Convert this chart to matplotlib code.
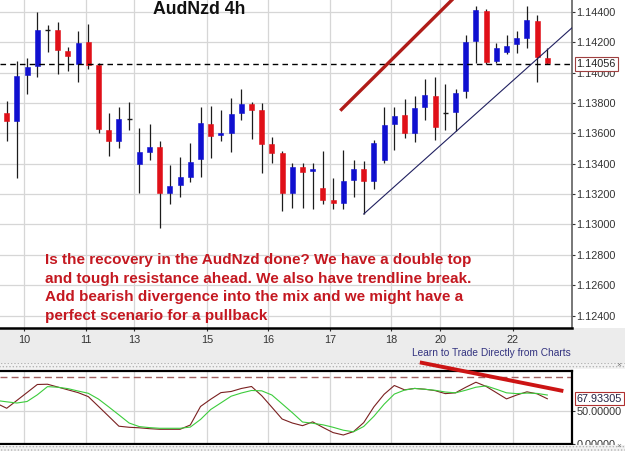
import matplotlib
matplotlib.use("Agg")
import matplotlib.pyplot as plt
import matplotlib.patches as mpatches
import numpy as np

plt.rcParams['font.family'] = ['Liberation Sans', 'DejaVu Sans']
plt.rcParams['hatch.linewidth'] = 0.6

# 4h candles, one row per bar
opens = [1.13734, 1.13681, 1.13984, 1.14043, 1.14280, 1.14280, 1.14141, 1.14056, 1.14201, 1.14049,
         1.13622, 1.13549, 1.13694, 1.13398, 1.13477, 1.13510, 1.13207, 1.13260, 1.13312, 1.13431,
         1.13661, 1.13589, 1.13602, 1.13734, 1.13793, 1.13753, 1.13530, 1.13470, 1.13207, 1.13378,
         1.13352, 1.13240, 1.13161, 1.13141, 1.13293, 1.13365, 1.13286, 1.13424, 1.13661, 1.13720,
         1.13602, 1.13773, 1.13845, 1.13734, 1.13740, 1.13878, 1.14207, 1.14405, 1.14076, 1.14135,
         1.14188, 1.14227, 1.14339, 1.14095]
highs = [1.13813, 1.14076, 1.14095, 1.14398, 1.14312, 1.14332, 1.14168, 1.14273, 1.14319, 1.14063,
         1.13734, 1.13773, 1.13806, 1.13635, 1.13661, 1.13549, 1.13391, 1.13444, 1.13536, 1.13773,
         1.13780, 1.13753, 1.13832, 1.13891, 1.13806, 1.13799, 1.13576, 1.13484, 1.13405, 1.13405,
         1.13405, 1.13484, 1.13306, 1.13490, 1.13424, 1.13418, 1.13556, 1.13773, 1.13773, 1.13826,
         1.13845, 1.13957, 1.13970, 1.13924, 1.13891, 1.14247, 1.14438, 1.14418, 1.14194, 1.14247,
         1.14273, 1.14438, 1.14378, 1.14161]
lows = [1.13549, 1.13306, 1.13859, 1.13970, 1.14135, 1.13990, 1.14010, 1.13938, 1.14023, 1.13602,
        1.13451, 1.13503, 1.13622, 1.13207, 1.13424, 1.12977, 1.13135, 1.13181, 1.13280, 1.13312,
        1.13438, 1.13549, 1.13477, 1.13688, 1.13563, 1.13339, 1.13405, 1.13089, 1.13109, 1.13109,
        1.13102, 1.13135, 1.13102, 1.13102, 1.13181, 1.13069, 1.13234, 1.13405, 1.13490, 1.13569,
        1.13543, 1.13688, 1.13556, 1.13622, 1.13615, 1.13832, 1.14063, 1.14056, 1.14063, 1.14122,
        1.14128, 1.14161, 1.13938, 1.14056]
closes = [1.13681, 1.13977, 1.14036, 1.14280, 1.14280, 1.14148, 1.14109, 1.14194, 1.14049, 1.13628,
          1.13549, 1.13694, 1.13694, 1.13477, 1.13510, 1.13207, 1.13253, 1.13312, 1.13411, 1.13668,
          1.13582, 1.13602, 1.13727, 1.13793, 1.13753, 1.13530, 1.13470, 1.13207, 1.13378, 1.13345,
          1.13365, 1.13161, 1.13141, 1.13286, 1.13365, 1.13286, 1.13536, 1.13655, 1.13714, 1.13602,
          1.13766, 1.13852, 1.13641, 1.13734, 1.13865, 1.14201, 1.14411, 1.14069, 1.14161, 1.14174,
          1.14227, 1.14345, 1.14102, 1.14063]

last_price = 1.14056
price_ticks = [1.124, 1.126, 1.128, 1.130, 1.132, 1.134, 1.136, 1.138, 1.140, 1.142, 1.144]

# day labels sit on bar boundaries
day_pos = [1.7, 7.75, 12.5, 19.65, 25.6, 31.7, 37.7, 42.5, 49.6]
day_labels = ['10', '11', '13', '15', '16', '17', '18', '20', '22']

# stochastic, first value belongs to the bar before the first visible candle
stoch_k = [61.1, 53.6, 65.4, 77.3, 89.3, 89.7, 85.5, 81.3, 77.1, 71.1, 56.4, 41.6, 26.7, 25.1, 24.3,
           23.0, 22.1, 22.1, 22.1, 28.5, 56.3, 67.2, 77.1, 78.8, 83.3, 86.3, 72.5, 55.1, 37.5, 31.5,
           27.5, 33.2, 24.9, 17.1, 13.5, 18.6, 32.1, 55.8, 74.6, 87.8, 81.3, 83.4, 82.2, 80.1, 75.6,
           76.8, 85.1, 92.7, 86.4, 77.1, 67.7, 73.5, 78.3, 75.3, 67.9]
stoch_d = [65.3, 63.3, 61.5, 63.8, 73.8, 86.1, 85.2, 83.1, 79.5, 76.1, 67.4, 55.7, 43.7, 31.5, 26.1,
           24.6, 23.6, 23.6, 23.6, 25.4, 36.8, 51.8, 61.7, 71.7, 76.5, 80.3, 79.8, 73.5, 60.3, 47.0,
           33.0, 31.1, 28.8, 25.1, 20.7, 18.3, 26.3, 41.6, 59.7, 74.9, 80.9, 83.4, 82.1, 80.6, 78.0,
           76.8, 80.7, 85.2, 87.2, 82.2, 76.8, 75.6, 76.4, 75.9, 73.5]
last_stoch = 67.93305

# hand drawn lines (bar index, value)
trend_x, trend_y = [35, 55.4], [1.13069, 1.14293]
top_x, top_y = [32.7, 44.5], [1.13749, 1.14534]
div_x, div_y = [40.5, 54.57], [122.5, 79.5]

W, H = 625, 451
fig = plt.figure(figsize=(6.25, 4.51), dpi=100)
fig.patch.set_facecolor('white')

# grey strip with dates and dotted separators
fig.patches.append(mpatches.Rectangle((0, 1 - 363 / H), 1, 35 / H, transform=fig.transFigure,
                                      facecolor='#ececec', edgecolor='none', zorder=-2))
for y0, h, z in [(363, 6, -1), (445, 6, 1)]:
    fig.patches.append(mpatches.Rectangle((0, 1 - (y0 + h) / H), 1, h / H, transform=fig.transFigure,
                                          facecolor='#f2f2f2', edgecolor='#b4b4b4', hatch='.....',
                                          lw=0, zorder=z))

xmin, xmax = -0.657, 55.39
ax = fig.add_axes([0, 1 - 328 / H, 571.7 / W, 328 / H])
ax.set_xlim(xmin, xmax)
ax.set_ylim(1.12319, 1.14477)
ax.set_axisbelow(True)

idx = np.arange(len(opens))
for i, o, h, l, c in zip(idx, opens, highs, lows, closes):
    ax.vlines(i, l, h, color='#1c1c1c', lw=0.9, zorder=2)
    if c == o:
        ax.hlines(o, i - 0.25, i + 0.25, color='#1c1c1c', lw=1.0, zorder=3)
    else:
        col = '#1010d0' if c > o else '#e01018'
        ax.bar(i, abs(c - o), bottom=min(o, c), width=0.48, color=col,
               edgecolor=col, lw=0.4, zorder=3)

ax.axhline(last_price, color='black', lw=1.0, ls=(0, (4, 3)), zorder=4)
ax.plot(trend_x, trend_y, color='#202060', lw=0.8, zorder=4)
ax.plot(top_x, top_y, color='#b01c18', lw=2.4, solid_capstyle='butt', zorder=4)

ax.set_yticks(price_ticks)
ax.set_yticklabels(['%.5f' % p for p in price_ticks])
ax.yaxis.tick_right()
ax.set_xticks(day_pos)
ax.set_xticklabels(day_labels)
ax.tick_params(axis='y', direction='out', length=2.5, pad=1, labelsize=7.8,
               colors='#333333', width=0.8)
ax.tick_params(axis='x', direction='out', length=2.5, pad=2.5, labelsize=7.8,
               colors='#333333', width=0.8)
ax.grid(True, color='#d6d6d6', lw=0.9)
for s in ['left', 'top']:
    ax.spines[s].set_visible(False)
ax.spines['bottom'].set_linewidth(1.8)
ax.spines['right'].set_color('#606060')
ax.spines['right'].set_linewidth(1.2)

ax.annotate('%.5f' % last_price, xy=(1.0, last_price), xycoords=('axes fraction', 'data'),
            xytext=(3.5, 0), textcoords='offset points', ha='left', va='center',
            fontsize=7.8, color='#222222', annotation_clip=False, zorder=6,
            bbox=dict(boxstyle='square,pad=0.15', fc='white', ec='#a04040', lw=0.8))

# oscillator panel
ox = fig.add_axes([0, 1 - 444 / H, 571.7 / W, (444 - 370.7) / H])
ox.set_xlim(xmin, xmax)
ox.set_ylim(0, 110)
ox.set_axisbelow(True)
sx = np.arange(len(stoch_k)) - 1
ox.plot(sx, stoch_k, color='#7a2020', lw=0.8, zorder=3)
ox.plot(sx, stoch_d, color='#3ccc3c', lw=0.8, zorder=3)
ox.axhline(100, color='#a06060', lw=1.0, ls=(0, (5, 3)), zorder=2)
ox.plot(div_x, div_y, color='#cc1414', lw=2.8, solid_capstyle='butt', clip_on=False, zorder=5)

ox.set_yticks([0, 50])
ox.set_yticklabels(['0.00000', '50.00000'])
ox.yaxis.tick_right()
ox.set_xticks(day_pos)
ox.tick_params(axis='x', length=0, labelbottom=False)
ox.tick_params(axis='y', direction='out', length=2.5, pad=1, labelsize=7.8,
               colors='#333333', width=0.8)
ox.grid(True, color='#d6d6d6', lw=0.9)
ox.spines['left'].set_visible(False)
for s in ['top', 'bottom', 'right']:
    ox.spines[s].set_linewidth(1.6)
    ox.spines[s].set_color('black')

ox.annotate('%.5f' % last_stoch, xy=(1.0, last_stoch), xycoords=('axes fraction', 'data'),
            xytext=(3.5, 0), textcoords='offset points', ha='left', va='center',
            fontsize=7.8, color='#222244', annotation_clip=False, zorder=6,
            bbox=dict(boxstyle='square,pad=0.15', fc='white', ec='#b03030', lw=0.8))

fig.text(153 / W, 1 - 1 / H, 'AudNzd 4h', ha='left', va='top', fontsize=12.7,
         fontweight='bold', color='#111111')
fig.text(45 / W, 1 - 253 / H,
         'Is the recovery in the AudNzd done? We have a double top\n'
         'and tough resistance ahead. We also have trendline break.\n'
         'Add bearish divergence into the mix and we might have a\n'
         'perfect scenario for a pullback',
         ha='left', va='top', fontsize=11, fontweight='bold', color='#c41820',
         linespacing=1.42)
fig.text(571 / W, 1 - 353 / H, 'Learn to Trade Directly from Charts', ha='right', va='center',
         fontsize=7.3, color='#333380')
for yy in [365.5, 446.5]:
    fig.text(619 / W, 1 - yy / H, '\u00d7', ha='center', va='center', fontsize=6,
             color='#777777', zorder=3)

fig.savefig('out.png', dpi=100)
